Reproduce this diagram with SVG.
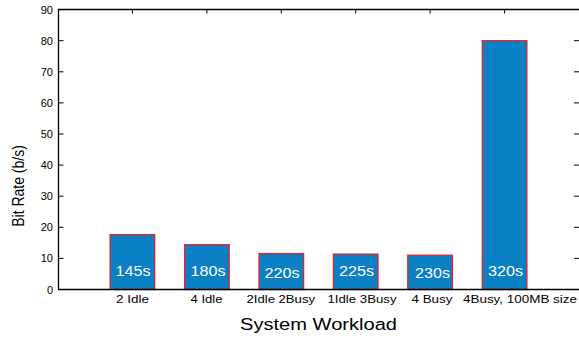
<svg xmlns="http://www.w3.org/2000/svg" width="579" height="339" viewBox="0 0 579 339">
  <style>
    text { font-family: "Liberation Sans", Arial, sans-serif; fill: #000; }
    .ytick { font-size: 11px; text-anchor: end; }
    .xtick { font-size: 11px; }
    .val { font-size: 14px; fill: #fff; }
    .bar { fill: #0b80c4; stroke: #e8202a; stroke-width: 1.3; }
    .axis { fill: none; stroke: #000; stroke-width: 1.3; }
    .tick { stroke: #000; stroke-width: 1; }
  </style>
  <rect width="579" height="339" fill="#fff"/>

  <!-- tick marks (left, right, top) -->
  <g id="ticks" class="tick">
    <path d="M58.5 289.5h5M58.5 258.4h5M58.5 227.3h5M58.5 196.2h5M58.5 165.1h5M58.5 134h5M58.5 102.9h5M58.5 71.8h5M58.5 40.7h5M58.5 9.6h5"/>
    <path d="M579 289.5h-5M579 258.4h-5M579 227.3h-5M579 196.2h-5M579 165.1h-5M579 134h-5M579 102.9h-5M579 71.8h-5M579 40.7h-5"/>
    <path d="M132.4 9.5v4M206.9 9.5v4M281.3 9.5v4M355.7 9.5v4M430.1 9.5v4M504.6 9.5v4"/>
  </g>

  <!-- y-axis tick labels -->
  <g id="ylabels">
    <text class="ytick" x="53" y="293.5">0</text>
    <text class="ytick" x="53" y="262.4">10</text>
    <text class="ytick" x="53" y="231.3">20</text>
    <text class="ytick" x="53" y="200.2">30</text>
    <text class="ytick" x="53" y="169.1">40</text>
    <text class="ytick" x="53" y="138">50</text>
    <text class="ytick" x="53" y="106.9">60</text>
    <text class="ytick" x="53" y="75.8">70</text>
    <text class="ytick" x="53" y="44.7">80</text>
    <text class="ytick" x="53" y="13.6">90</text>
  </g>

  <!-- bars -->
  <g id="bar-2idle">
    <rect class="bar" x="110.1" y="234.6" width="44.6" height="54.9"/>
    <text class="val" x="115.5" y="276" textLength="35" lengthAdjust="spacingAndGlyphs">145s</text>
  </g>
  <g id="bar-4idle">
    <rect class="bar" x="184.6" y="244.7" width="44.6" height="44.8"/>
    <text class="val" x="190.5" y="276" textLength="35" lengthAdjust="spacingAndGlyphs">180s</text>
  </g>
  <g id="bar-2idle-2busy">
    <rect class="bar" x="259" y="253.6" width="44.6" height="35.9"/>
    <text class="val" x="264.5" y="277.5" textLength="35" lengthAdjust="spacingAndGlyphs">220s</text>
  </g>
  <g id="bar-1idle-3busy">
    <rect class="bar" x="333.4" y="254.1" width="44.6" height="35.4"/>
    <text class="val" x="339" y="276" textLength="35" lengthAdjust="spacingAndGlyphs">225s</text>
  </g>
  <g id="bar-4busy">
    <rect class="bar" x="407.8" y="255.2" width="44.6" height="34.3"/>
    <text class="val" x="415" y="277.5" textLength="35" lengthAdjust="spacingAndGlyphs">230s</text>
  </g>
  <g id="bar-4busy-100mb">
    <rect class="bar" x="482.3" y="40.7" width="44.6" height="248.8"/>
    <text class="val" x="488" y="276" textLength="35" lengthAdjust="spacingAndGlyphs">320s</text>
  </g>

  <!-- axes box -->
  <path class="axis" d="M579 9.5H58.5V289.5H579"/>

  <!-- category labels -->
  <g id="xlabels">
    <text class="xtick" x="116" y="302.5" textLength="33" lengthAdjust="spacingAndGlyphs">2 Idle</text>
    <text class="xtick" x="190.5" y="302.5" textLength="32" lengthAdjust="spacingAndGlyphs">4 Idle</text>
    <text class="xtick" x="246.5" y="302.5" textLength="68.5" lengthAdjust="spacingAndGlyphs">2Idle 2Busy</text>
    <text class="xtick" x="327.5" y="302.5" textLength="69" lengthAdjust="spacingAndGlyphs">1Idle 3Busy</text>
    <text class="xtick" x="411.5" y="302.5" textLength="41" lengthAdjust="spacingAndGlyphs">4 Busy</text>
    <text class="xtick" x="463" y="302.5" textLength="114" lengthAdjust="spacingAndGlyphs">4Busy, 100MB size</text>
  </g>

  <!-- axis titles -->
  <text id="xtitle" x="240" y="330" font-size="16" textLength="157" lengthAdjust="spacingAndGlyphs">System Workload</text>
  <text id="ytitle" transform="translate(24,186) scale(1.2,1) rotate(-90)" font-size="14" text-anchor="middle">Bit Rate (b/s)</text>
</svg>
